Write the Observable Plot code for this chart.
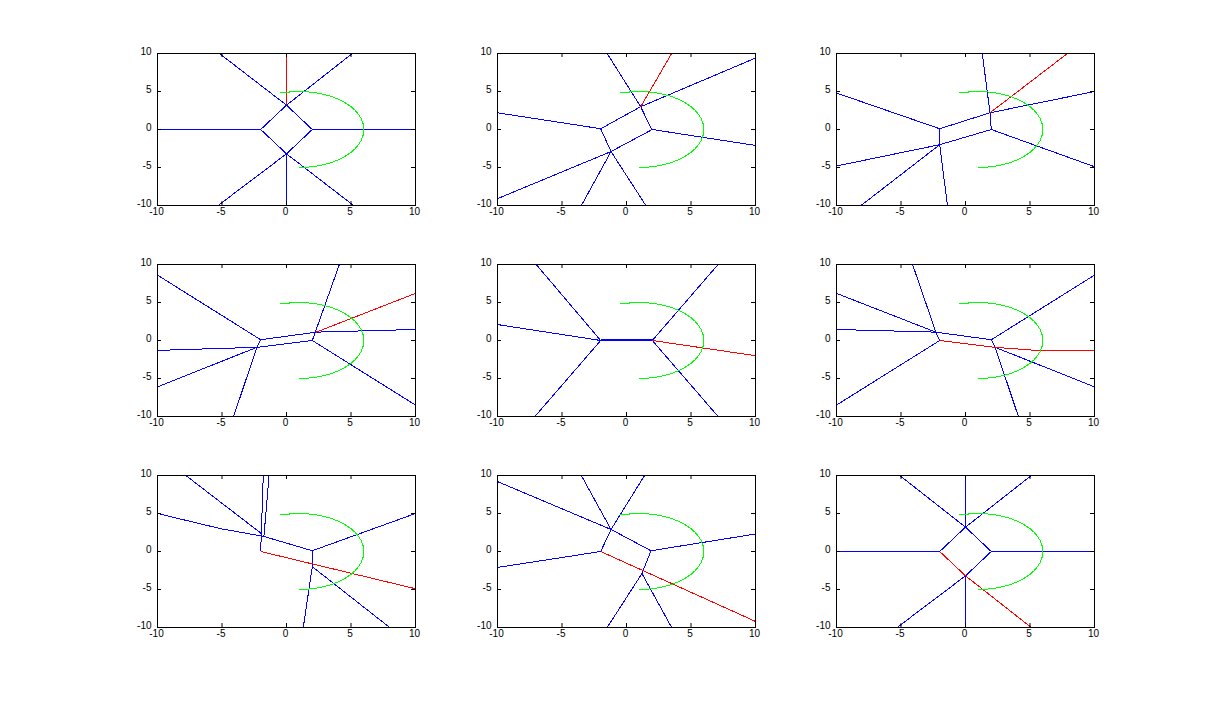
<!DOCTYPE html>
<html>
<head>
<meta charset="utf-8">
<script src="https://cdn.jsdelivr.net/npm/d3@7"></script>
<script src="https://cdn.jsdelivr.net/npm/@observablehq/plot@0.6"></script>
<style>
  html, body { margin: 0; padding: 0; background: #ffffff; }
  #fig { position: relative; width: 1209px; height: 704px; background: #ffffff; overflow: hidden; }
  #fig svg { position: absolute; background: transparent; }
</style>
</head>
<body>
<div id="fig"></div>
<script>
// Tick values
const xTicks = [-10, -5, 0, 5, 10];
const yTicks = [-10, -5, 0, 5, 10];

// Green arc (same in every panel), [x, y]
const arc = [[-0.5,4.8],[0,4.9],[0.5,4.97],[1,5],[1.5,4.97],[2,4.9],[2.5,4.77],[3,4.58],[3.5,4.33],[4,4],[4.5,3.57],[5,3],[5.3,2.55],[5.6,1.96],[5.8,1.4],[5.95,0.7],[6,0],[5.95,-0.7],[5.8,-1.4],[5.6,-1.96],[5.3,-2.55],[5,-3],[4.5,-3.57],[4,-4],[3.5,-4.33],[3,-4.58],[2.5,-4.77],[2,-4.9],[1.5,-4.97],[1,-5]];

// Segments [x1, y1, x2, y2]: "edges" drawn blue, "path" drawn red
const p1Edges = [[-10,0,-2,0],[2,0,10,0],[-2,0,0,3.2],[0,3.2,2,0],[2,0,0,-3.2],[0,-3.2,-2,0],[0,3.2,-5.2,10],[0,3.2,5.1,10],[0,-3.2,-5.3,-10],[0,-3.2,5.2,-10],[0,-3.2,0,-10]];
const p1Path = [[0,3.2,0,10]];

const p2Edges = [[-10,2.2,-2,0.1],[-2,0.1,1.1,3],[1.1,3,10,9.4],[-1.5,10,1.1,3],[1.1,3,1.9,0.2],[1.9,0.2,2,0],[2,0,10,-2.1],[2,0,-1.2,-2.9],[-1.2,-2.9,-10,-9.1],[-2,0.1,-1.2,-2.9],[-1.2,-2.9,1.5,-10],[-1.2,-2.9,-3.5,-10]];
const p2Path = [[1.1,3,3.5,10]];

const p3Edges = [[-10,4.8,-2,0.1],[-2,0.1,1.9,2.2],[1.9,2.2,10,5],[1.3,10,1.9,2.2],[1.9,2.2,2,0],[2,0,10,-4.9],[2,0,-2,-2],[-2,-2,-10,-4.8],[-2,0.1,-2,-2],[-2,-2,-1.4,-10],[-2,-2,-8.1,-10]];
const p3Path = [[1.9,2.2,7.9,10]];

const p4Edges = [[-10,8.6,-2,0.1],[-2,0.1,2.3,1.1],[2.3,1.1,10,1.45],[2,0,4.1,10],[2,0,10,-8.5],[2,0,-2.3,-0.9],[-2.3,-0.9,-10,-1.3],[-2,0.1,-2.3,-0.9],[-2.3,-0.9,-4.1,-10],[-2.3,-0.9,-10,-6.1]];
const p4Path = [[2.3,1.1,10,6.2]];

const p5Edges = [[-10,2.1,-2,0],[-2,0,2,0],[-2,0.07,2,0.07],[-2,0,-7,10],[-2,0,-7.1,-10],[2,0,7.1,10],[2,0,7.1,-10],[2,0,10,-2]];
const p5Path = [[2,0,10,-2]];

const p6Edges = [[-10,6.2,-2.3,1.1],[-2.3,1.1,2,0.1],[-10,1.45,-2.3,1.1],[-4.1,10,-2.3,1.1],[-2.3,1.1,-2,0],[-2,0,-10,-8.5],[2,0.1,10,8.6],[2,0.1,2.3,-0.9],[2.3,-0.9,4.1,-10],[2.3,-0.9,10,-6.1]];
const p6Path = [[-2,0,2.3,-0.9],[2.3,-0.9,5.5,-1.3],[5.5,-1.3,10,-1.3]];

const p7Edges = [[-10,5,-5.1,3.0],[-5.1,3.0,-1.8,2],[-1.8,2,2,0.1],[-7.8,10,-1.9,2.3],[-1.8,10,-2,0],[-1.35,10,-1.75,2],[2,0.1,10,5],[2,0.1,2,-2],[2,-2,1.3,-10],[2,-2,8,-10]];
const p7Path = [[-2,0,10,-4.9]];

const p8Edges = [[-10,-2.1,-2,0],[-2,0,-1.2,2.9],[-1.2,2.9,1.4,10],[-10,9.2,-1.2,2.9],[-1.2,2.9,1.9,0.1],[-3.5,10,-1.2,2.9],[1.9,0.1,10,2.3],[1.9,0.1,1.2,-2.9],[1.2,-2.9,3.5,-10],[1.2,-2.9,-1.5,-10]];
const p8Path = [[-2,0,10,-9.2]];

const p9Edges = [[-10,0,-2,0],[2,0,10,0],[-2,0,0,3.2],[0,3.2,2,0],[2,0,0,-3.2],[0,3.2,-5.1,10],[0,3.2,5.1,10],[0,-3.2,-5.3,-10],[0,-3.2,0,-10],[0,3.2,0,10]];
const p9Path = [[-2,0,0,-3.2],[0,-3.2,5.1,-10]];

const panels = [
  [p1Edges, p1Path], [p2Edges, p2Path], [p3Edges, p3Path],
  [p4Edges, p4Path], [p5Edges, p5Path], [p6Edges, p6Path],
  [p7Edges, p7Path], [p8Edges, p8Path], [p9Edges, p9Path]
];

// Layout (MATLAB-style subplot grid)
const colLeft = [157, 497, 836];
const rowTop = [53, 264, 475];
const W = 258, H = 152;
const mL = 34, mR = 6, mT = 8, mB = 20;
const tick = 4;

const fig = document.getElementById("fig");

panels.forEach(([edges, path], i) => {
  const r = Math.floor(i / 3), c = i % 3;
  const seg = (data, color) => Plot.link(data, {
    x1: d => d[0], y1: d => d[1], x2: d => d[2], y2: d => d[3],
    stroke: color, strokeWidth: 1, clip: true, shapeRendering: "crispEdges"
  });
  const svg = Plot.plot({
    width: W + mL + mR,
    height: H + mT + mB,
    marginLeft: mL, marginRight: mR, marginTop: mT, marginBottom: mB,
    x: {domain: [-10, 10], axis: null},
    y: {domain: [-10, 10], axis: null},
    style: {fontFamily: "'Liberation Sans', Arial, sans-serif", fontSize: "10px", background: "transparent", color: "black"},
    marks: [
      seg(edges, "#0000ff"),
      seg(path, "#ff0000"),
      Plot.line(arc, {x: d => d[0], y: d => d[1], stroke: "#00ff00", strokeWidth: 1, clip: true, shapeRendering: "crispEdges"}),
      Plot.frame({stroke: "black", strokeWidth: 1}),
      // inward ticks on all four sides
      Plot.tickX(xTicks, {x: d => d, insetTop: H - tick, stroke: "black"}),
      Plot.tickX(xTicks, {x: d => d, insetBottom: H - tick, stroke: "black"}),
      Plot.tickY(yTicks, {y: d => d, insetLeft: W - tick, stroke: "black"}),
      Plot.tickY(yTicks, {y: d => d, insetRight: W - tick, stroke: "black"}),
      Plot.text(xTicks, {x: d => d, text: d => String(d), frameAnchor: "bottom", lineAnchor: "top", dy: 2, dx: -1, fill: "black"}),
      Plot.text(yTicks, {y: d => d, text: d => String(d), frameAnchor: "left", textAnchor: "end", dx: -6, dy: -2, fill: "black"})
    ]
  });
  svg.style.left = (colLeft[c] - mL) + "px";
  svg.style.top = (rowTop[r] - mT) + "px";
  fig.appendChild(svg);
});
</script>
</body>
</html>
